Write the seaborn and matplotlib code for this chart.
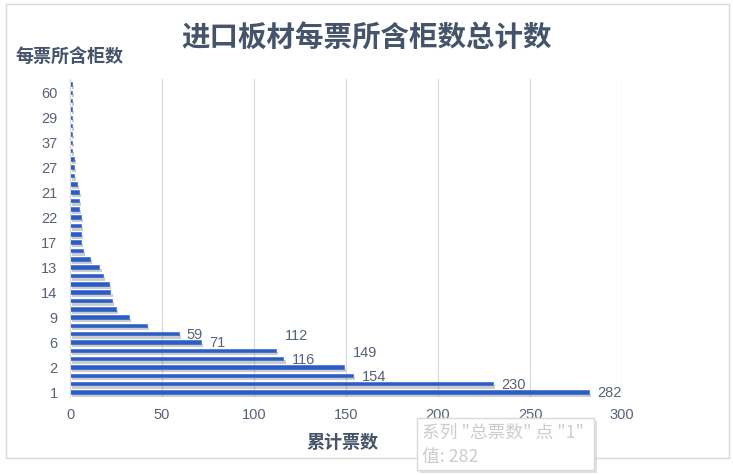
import numpy as np
import pandas as pd
import matplotlib
matplotlib.use('Agg')
import matplotlib.pyplot as plt
import matplotlib.patheffects as pe
from matplotlib.patches import Rectangle
import seaborn as sns

# categories from bottom to top (only every third label is readable in the chart)
boxes_per_ticket = ['1', '3', '4', '2', '5', '8', '6', '7', '10', '9',
                    '12', '11', '14', '15', '16', '13', '18', '20', '17', '19',
                    '24', '22', '23', '25', '21', '26', '28', '27', '30', '31',
                    '37', '32', '33', '29', '34', '40', '60', '35']
ticket_totals = [282, 230, 154, 149, 116, 112, 71, 59, 42, 32,
                 25, 23, 22, 21, 18, 16, 11, 7, 6, 6,
                 6, 6, 5, 5, 5, 4, 2, 2, 2, 1,
                 1, 1, 1, 1, 1, 1, 1, 1]
n_labelled = 8
x_ticks = [0, 50, 100, 150, 200, 250, 300]

df = pd.DataFrame({'每票所含柜数': boxes_per_ticket, '总票数': ticket_totals})

sns.set_style('white')
plt.rcParams['font.family'] = ['Liberation Sans', 'Noto Sans CJK SC', 'DejaVu Sans']

fig = plt.figure(figsize=(7.33, 4.75), dpi=100)
ax = fig.add_axes([0.0955, 0.1642, 0.7531, 0.6695])

bar_blue = '#2A5DC5'
text_col = '#56627A'
cjk = ['Noto Sans CJK SC', 'DejaVu Sans']
order = boxes_per_ticket[::-1]  # seaborn puts first one at top
sns.barplot(data=df, x='总票数', y='每票所含柜数', order=order, orient='h',
            color=bar_blue, saturation=1, width=0.42, ax=ax)

shadow = [pe.SimplePatchShadow(offset=(1.5, -2.4), shadow_rgbFace='#808080', alpha=0.4), pe.Normal()]
for p in ax.patches:
    p.set_path_effects(shadow)
    p.set_edgecolor(bar_blue)
    p.set_linewidth(0.4)

n = len(boxes_per_ticket)
ax.set_ylim(n - 0.4, -0.6)
ax.set_xlim(0, 300)
ax.set_xticks(x_ticks)
ax.set_xticklabels([str(t) for t in x_ticks])
ax.xaxis.grid(True, color='#D9D9D9', linewidth=0.9)
ax.set_axisbelow(True)
for s in ['top', 'right', 'bottom']:
    ax.spines[s].set_visible(False)
ax.spines['left'].set_color('#D9D9D9')
ax.tick_params(axis='both', length=0, labelsize=10.5, labelcolor=text_col)
ax.tick_params(axis='y', pad=9)
ax.tick_params(axis='x', pad=8)
for pos, lab in enumerate(ax.get_yticklabels()):
    lab.set_visible((n - 1 - pos) % 3 == 0)
ax.set_xlabel('')
ax.set_ylabel('')

# data labels, Excel nudged two of them upwards
nudge = {3: 10, 5: 10}
for i in range(n_labelled):
    v = ticket_totals[i]
    pos = n - 1 - i
    ax.annotate(str(v), xy=(v, pos), xytext=(6, nudge.get(i, -1)), textcoords='offset points',
                ha='left', va='center', fontsize=10.5, color=text_col)

fig.text(0.5007, 0.918, '进口板材每票所含柜数总计数', ha='center', va='center',
         fontsize=20.5, fontweight='bold', color='#44546A', family=cjk)
fig.text(0.0205, 0.88, '每票所含柜数', ha='left', va='center',
         fontsize=13, fontweight='bold', color='#44546A', family=cjk)
fig.text(0.4666, 0.0674, '累计票数', ha='center', va='center',
         fontsize=13, fontweight='bold', color='#44546A', family=cjk)

# chart frame
fig.patches.append(Rectangle((6 / 733, 1 - 458 / 475), 723 / 733, 454 / 475, transform=fig.transFigure,
                             facecolor='none', edgecolor='#D9D9D9', linewidth=1, zorder=0))

# hover tooltip in the screenshot
tip = Rectangle((417 / 733, 1 - 470 / 475), 177 / 733, 52 / 475, transform=fig.transFigure,
                facecolor='white', edgecolor='#D9D9D9', linewidth=1, zorder=5)
tip.set_path_effects([pe.SimplePatchShadow(offset=(2, -2), shadow_rgbFace='#999999', alpha=0.3), pe.Normal()])
fig.patches.append(tip)
fig.text(422 / 733, 1 - 433 / 475, '系列 "总票数" 点 "1"', ha='left', va='center', fontsize=12.8,
         color='#CCCCCC', zorder=6, family=cjk)
fig.text(422 / 733, 1 - 457 / 475, '值: 282', ha='left', va='center', fontsize=12.8,
         color='#CCCCCC', zorder=6, family=cjk)

plt.savefig('out.png', dpi=100)
